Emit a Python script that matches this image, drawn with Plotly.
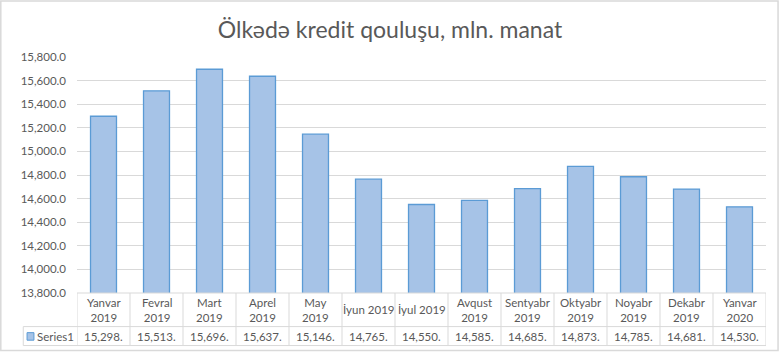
import plotly.graph_objects as go

categories = ["Yanvar<br>2019", "Fevral<br>2019", "Mart<br>2019", "Aprel<br>2019", "May<br>2019",
              "İyun 2019", "İyul 2019", "Avqust<br>2019", "Sentyabr<br>2019", "Oktyabr<br>2019",
              "Noyabr<br>2019", "Dekabr<br>2019", "Yanvar<br>2020"]
values = [15298, 15513, 15696, 15637, 15146, 14765, 14550, 14585, 14685, 14873, 14785, 14681, 14530]
series_name = "Series1"
title = "Ölkədə kredit qouluşu, mln. manat"

FONT = "Lato"
TXT = "#595959"
GRID = "#d9d9d9"
FILL = "#a6c3e7"
EDGE = "#5b9bd5"

n = len(categories)
xs = list(range(n))

fig = go.Figure()
fig.add_trace(go.Bar(x=xs, y=values, name=series_name, width=0.49,
                     marker=dict(color=FILL, line=dict(color=EDGE, width=1.3)),
                     showlegend=False))

# table geometry in paper coords
y_top = 0.0
y_mid = -0.1424
y_bot = -0.2227
x_leg = -0.078

shapes = []
shapes.append(dict(type="line", xref="x", yref="paper", x0=-0.5, x1=n - 0.5, y0=y_top, y1=y_top,
                   line=dict(color=GRID, width=1)))
for yy in (y_mid, y_bot):
    shapes.append(dict(type="line", xref="paper", yref="paper", x0=x_leg, x1=1, y0=yy, y1=yy,
                       line=dict(color=GRID, width=1)))
for i in range(n + 1):
    shapes.append(dict(type="line", xref="x", yref="paper", x0=i - 0.5, x1=i - 0.5, y0=y_top, y1=y_bot,
                       line=dict(color=GRID, width=1)))
shapes.append(dict(type="line", xref="paper", yref="paper", x0=x_leg, x1=x_leg, y0=y_mid, y1=y_bot,
                   line=dict(color=GRID, width=1)))
# legend key
shapes.append(dict(type="rect", xref="paper", yref="paper", x0=-0.0725, x1=-0.0625, y0=-0.200, y1=-0.168,
                   fillcolor=FILL, line=dict(color=EDGE, width=1)))
# outer border
shapes.append(dict(type="rect", xref="paper", yref="paper", x0=-0.1106, x1=1.0175, y0=-0.2435, y1=1.2375,
                   line=dict(color=GRID, width=1.5)))

annotations = []
for i, c in enumerate(categories):
    annotations.append(dict(x=i, y=(y_top + y_mid) / 2, xref="x", yref="paper", text=c, showarrow=False,
                            xanchor="center", yanchor="middle",
                            font=dict(family=FONT, size=11.5, color=TXT), align="center"))
    annotations.append(dict(x=i, y=(y_mid + y_bot) / 2, xref="x", yref="paper",
                            text=f"{values[i]:,.0f}.", showarrow=False,
                            xanchor="center", yanchor="middle",
                            font=dict(family=FONT, size=11.5, color=TXT)))
annotations.append(dict(x=-0.0605, y=(y_mid + y_bot) / 2, xref="paper", yref="paper", text=series_name,
                        xanchor="left", yanchor="middle", showarrow=False,
                        font=dict(family=FONT, size=11.5, color=TXT)))

fig.update_layout(
    width=780, height=353,
    margin=dict(l=77, r=14, t=57, b=60),
    paper_bgcolor="white", plot_bgcolor="white",
    title=dict(text=title, x=0.5, xanchor="center", y=0.915, yanchor="middle",
               font=dict(family=FONT, size=23, color=TXT)),
    xaxis=dict(range=[-0.5, n - 0.5], showticklabels=False, showgrid=False, zeroline=False,
               showline=False, ticks=""),
    yaxis=dict(range=[13800, 15800], dtick=200, tickformat=",.1f", showgrid=True, gridcolor=GRID,
               gridwidth=1, zeroline=False, showline=False, ticks="",
               tickfont=dict(family=FONT, size=11.5, color=TXT), ticklabelstandoff=10),
    shapes=shapes,
    annotations=annotations,
    bargap=0.5,
)

fig.write_html("out.html")
